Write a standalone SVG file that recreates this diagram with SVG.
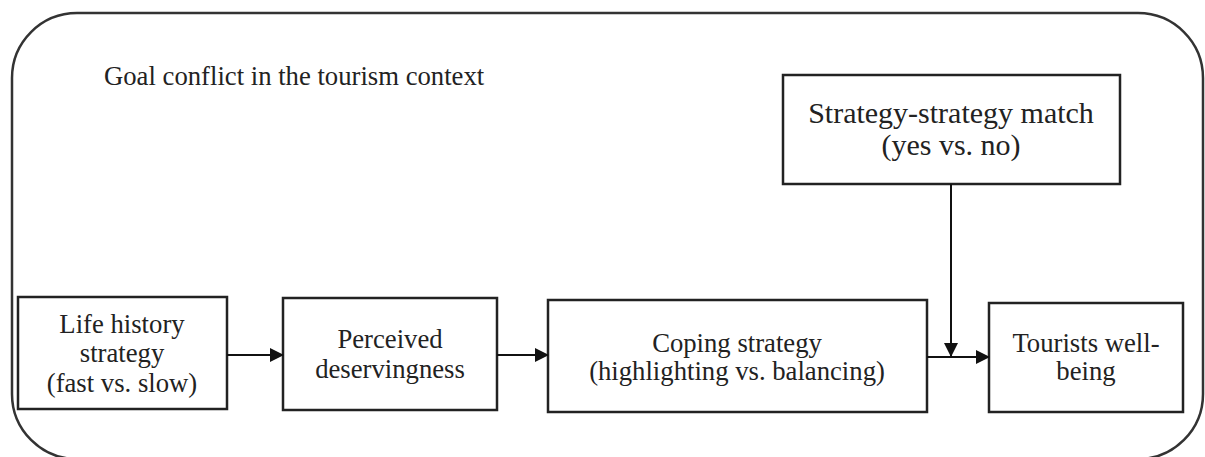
<svg xmlns="http://www.w3.org/2000/svg" width="1205" height="457" viewBox="0 0 1205 457">
<style>
.box{fill:#fff;stroke:#222;stroke-width:2.5}
.frame{fill:none;stroke:#333;stroke-width:2.5}
text{font-family:"Liberation Serif","Times New Roman",serif;fill:#222;text-anchor:middle}
.t{font-size:26.7px}
.big{font-size:30px}
.c{stroke:#111;stroke-width:2;fill:none}
</style>
<defs>
<marker id="ahv" markerWidth="14" markerHeight="14" refX="13" refY="7" orient="auto" markerUnits="userSpaceOnUse"><path d="M0,0 L14,7 L0,14 Z" fill="#111"/></marker>
</defs>
<rect class="frame" x="12" y="13" width="1191" height="446" rx="65" ry="65"/>
<text x="104" y="85" class="t" style="text-anchor:start">Goal conflict in the tourism context</text>
<g id="life">
<rect class="box" x="18" y="297" width="209" height="112"/>
<text class="t" x="122" y="333">Life history</text>
<text class="t" x="122" y="362">strategy</text>
<text class="t" x="122" y="392">(fast vs. slow)</text>
</g>
<g id="perceived">
<rect class="box" x="283" y="298" width="214" height="112"/>
<text class="t" x="390" y="348">Perceived</text>
<text class="t" x="390" y="378">deservingness</text>
</g>
<g id="coping">
<rect class="box" x="548" y="300" width="379" height="112"/>
<text class="t" x="737" y="352">Coping strategy</text>
<text class="t" x="737" y="380">(highlighting vs. balancing)</text>
</g>
<g id="tourists">
<rect class="box" x="989" y="303" width="194" height="109"/>
<text class="t" x="1086" y="352">Tourists well-</text>
<text class="t" x="1086" y="380">being</text>
</g>
<g id="match">
<rect class="box" x="783" y="75" width="337" height="109"/>
<text class="big" x="951" y="123">Strategy-strategy match</text>
<text class="big" x="951" y="155">(yes vs. no)</text>
</g>
<g id="connectors">
<line class="c" x1="227" y1="355" x2="283" y2="355" marker-end="url(#ahv)"/>
<line class="c" x1="497" y1="355" x2="548" y2="355" marker-end="url(#ahv)"/>
<line class="c" x1="927" y1="357" x2="989" y2="357" marker-end="url(#ahv)"/>
<line class="c" x1="951" y1="184" x2="951" y2="356" marker-end="url(#ahv)"/>
</g>
</svg>
